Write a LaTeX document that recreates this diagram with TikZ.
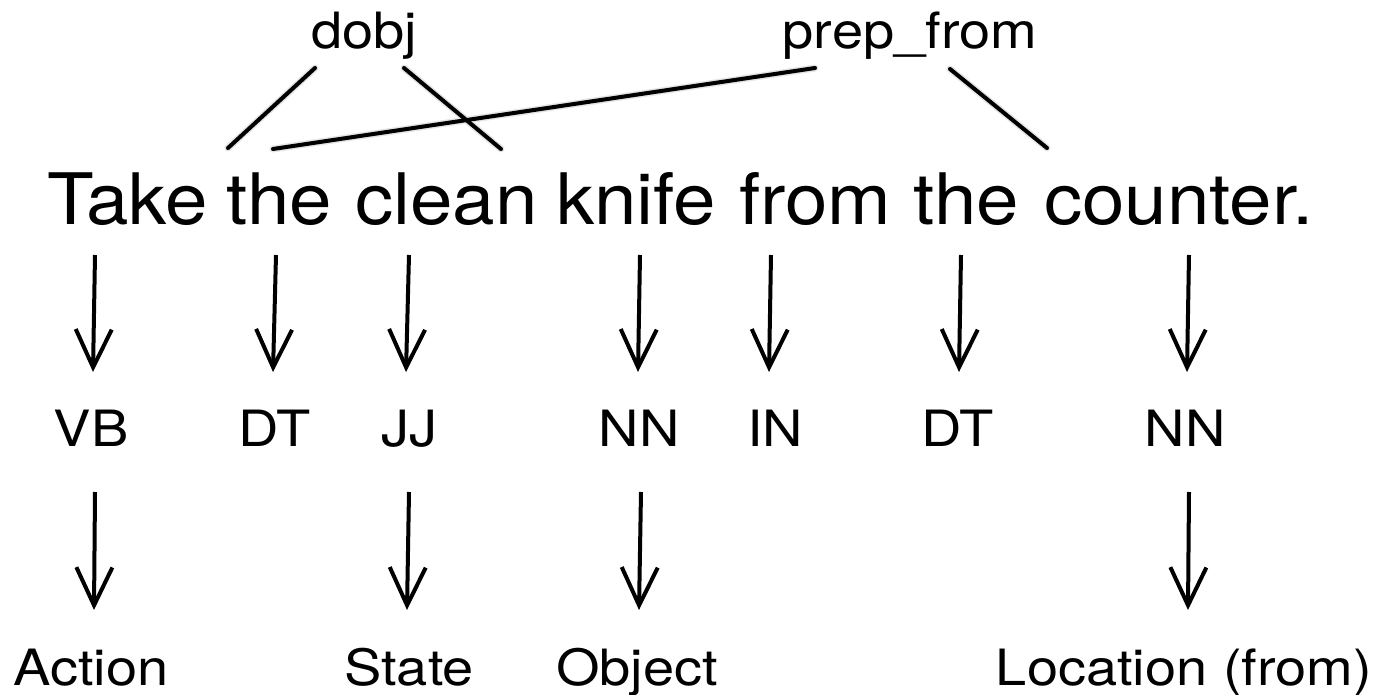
\documentclass[tikz,border=0pt]{standalone}
\usepackage{fontspec}
\setmainfont{TeX Gyre Heros}
\newfontfamily\labfont[FakeStretch=1.12]{TeX Gyre Heros}
\newfontfamily\wordfont[FakeStretch=1.075]{TeX Gyre Heros}
\usetikzlibrary{arrows.meta}
\begin{document}
\begin{tikzpicture}[x=1pt,y=-1pt,
  word/.style={anchor=base west,inner sep=0pt,font=\wordfont\fontsize{71}{80}\selectfont},
  lab/.style={anchor=base,inner sep=0pt,font=\labfont\fontsize{50}{60}\selectfont},
  rel/.style={line width=4pt,line cap=round},
  shad/.style={line width=7pt,line cap=round,draw=black!10,shift={(3,6)}},
  darr/.style={line width=4pt,-{Straight Barb[length=38pt,width=36pt,line width=4pt]}},
]
\useasboundingbox (0,0) rectangle (1382,695);
% top relations
\node[lab] (dobj) at (364,49) {dobj};
\node[lab] (prep) at (910,49) {prep\_from};
% sentence
\node[word] (w1) at (47,225) {Take};
\node[word] (w2) at (226,225) {the};
\node[word] (w3) at (355,225) {clean};
\node[word] (w4) at (556,225) {knife};
\node[word] (w5) at (739,225) {from};
\node[word] (w6) at (913,225) {the};
\node[word] (w7) at (1044,225) {counter.};
% tags
\node[lab] (t1) at (91,446) {VB};
\node[lab] (t2) at (275,446) {DT};
\node[lab] (t3) at (409,446) {JJ};
\node[lab] (t4) at (639,446) {NN};
\node[lab] (t5) at (775,446) {IN};
\node[lab] (t6) at (958,446) {DT};
\node[lab] (t7) at (1185,446) {NN};
% semantic labels
\node[lab] (s1) at (91,685) {Action};
\node[lab] (s3) at (409,685) {State};
\node[lab] (s4) at (637,685) {Object};
\node[lab] (s7) at (1184,685) {Location (from)};
% relation line end points
\coordinate (d1a) at (315,68); \coordinate (d1b) at (228,148);
\coordinate (d2a) at (404,68); \coordinate (d2b) at (501,149);
\coordinate (p1a) at (815,68); \coordinate (p1b) at (273,149);
\coordinate (p2a) at (950,69); \coordinate (p2b) at (1047,148);
\foreach \a/\b in {d1a/d1b,d2a/d2b,p1a/p1b,p2a/p2b}{
  \draw[shad] (\a) -- (\b);
}
\foreach \a/\b in {d1a/d1b,d2a/d2b,p1a/p1b,p2a/p2b}{
  \draw[rel] (\a) -- (\b);
}
% arrows word -> tag
\foreach \n/\xa/\xb in {1/95/93,2/276/273,3/409/406,4/640/638,5/771/769,6/961/959,7/1189/1187}{
  \coordinate (a\n) at (\xa,255);
  \coordinate (b\n) at (\xb,372);
}
\foreach \n/\xa/\xb in {1/95/94,3/409/407,4/641/639,7/1189/1188}{
  \coordinate (c\n) at (\xa,492);
  \coordinate (e\n) at (\xb,610);
}
\foreach \n in {1,...,7}{\draw[darr] (a\n) -- (b\n);}
\foreach \n in {1,3,4,7}{\draw[darr] (c\n) -- (e\n);}
\end{tikzpicture}
\end{document}
